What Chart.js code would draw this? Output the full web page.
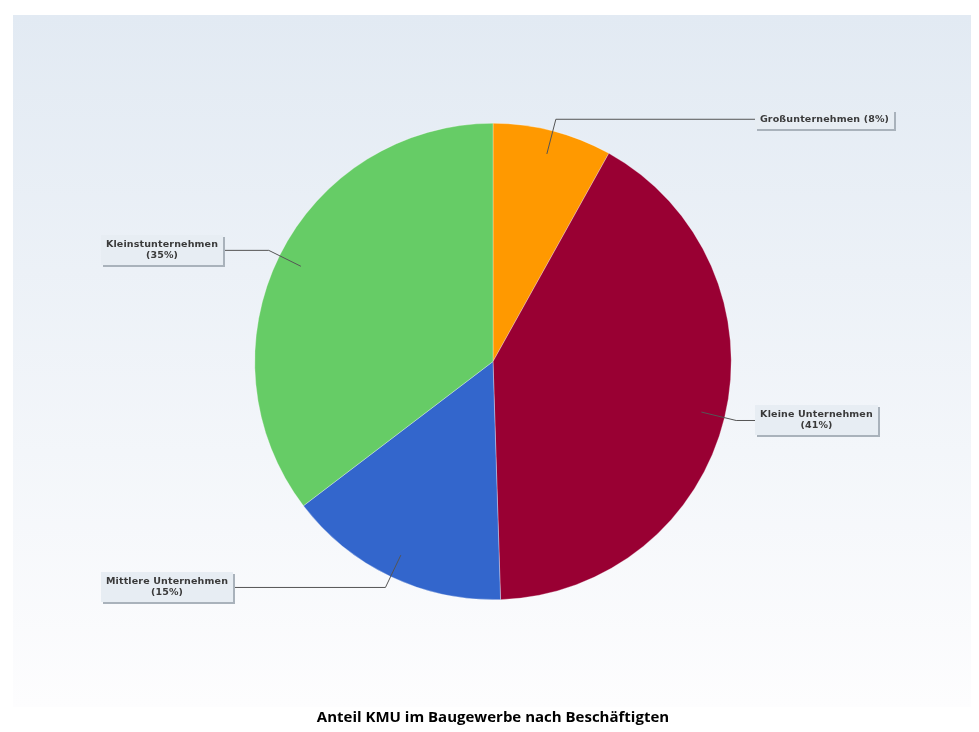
<!DOCTYPE html>
<html>
<head>
<meta charset="utf-8">
<script src="https://cdn.jsdelivr.net/npm/chart.js@4/dist/chart.umd.min.js"></script>
<style>
  html, body { margin: 0; background: #fff; }
</style>
</head>
<body>
<canvas id="pie" width="979" height="732"></canvas>
<script>
// Daten
const categories = ['Großunternehmen', 'Kleine Unternehmen', 'Mittlere Unternehmen', 'Kleinstunternehmen'];
const shares = [8, 41, 15, 35]; // Anteil in %
const colors = ['#ff9900', '#990033', '#3366cc', '#66cc66'];
const chartTitle = 'Anteil KMU im Baugewerbe nach Beschäftigten';

// Hintergrund mit Verlauf
const bgPlugin = {
  id: 'bg',
  beforeDraw(chart) {
    const ctx = chart.ctx;
    const g = ctx.createLinearGradient(0, 15, 0, 707);
    g.addColorStop(0, '#e2eaf3');
    g.addColorStop(1, '#fdfdfe');
    ctx.save();
    ctx.fillStyle = g;
    ctx.fillRect(13, 15, 958, 692);
    ctx.restore();
  }
};

// Beschriftungen mit Verbindungslinien
const labelPlugin = {
  id: 'pieLabels',
  afterDatasetsDraw(chart) {
    const ctx = chart.ctx;
    const meta = chart.getDatasetMeta(0);
    const lineH = 11;
    const maxTextW = 130;
    ctx.save();
    ctx.font = 'bold 9.5px "DejaVu Sans"';
    ctx.letterSpacing = '0.15px';
    ctx.textAlign = 'center';
    ctx.textBaseline = 'middle';

    meta.data.forEach((arc, i) => {
      const p = arc.getProps(['x', 'y', 'startAngle', 'endAngle', 'outerRadius'], true);
      const mid = (p.startAngle + p.endAngle) / 2;
      const cos = Math.cos(mid), sin = Math.sin(mid);
      const ax = p.x + cos * p.outerRadius * 0.9;
      const ay = p.y + sin * p.outerRadius * 0.9;
      const ex = p.x + cos * (p.outerRadius + 12);
      const ey = p.y + sin * (p.outerRadius + 12);
      const right = cos >= 0;

      // Text umbrechen, wenn zu lang
      const full = categories[i] + ' (' + shares[i] + '%)';
      const lines = ctx.measureText(full).width > maxTextW
        ? [categories[i], '(' + shares[i] + '%)']
        : [full];
      const textW = Math.max(...lines.map(l => ctx.measureText(l).width));
      const w = Math.round(textW + 10);
      const h = 8 + lineH * lines.length;
      const bx = right ? 755 : 101;
      const by = Math.round(ey - h / 2);

      // Linie
      ctx.strokeStyle = '#555';
      ctx.lineWidth = 1;
      ctx.beginPath();
      ctx.moveTo(ax, ay);
      ctx.lineTo(ex, ey);
      ctx.lineTo(right ? bx : bx + w, ey);
      ctx.stroke();

      // Box mit Schatten
      ctx.fillStyle = '#a9b2bb';
      ctx.fillRect(bx + 2, by + 2, w, h);
      ctx.fillStyle = '#e7edf3';
      ctx.fillRect(bx, by, w, h);

      ctx.fillStyle = '#3a3a3a';
      lines.forEach((l, k) => {
        ctx.fillText(l, bx + w / 2, by + 4 + lineH * k + lineH / 2 + 0.5);
      });
    });
    ctx.restore();
  }
};

new Chart(document.getElementById('pie'), {
  type: 'pie',
  data: {
    labels: categories,
    datasets: [{
      data: shares,
      backgroundColor: colors,
      borderColor: 'rgba(255,255,255,0.6)',
      borderWidth: 0.5
    }]
  },
  options: {
    responsive: false,
    animation: false,
    layout: { padding: { top: 123, left: 100, right: 93, bottom: 0 } },
    plugins: {
      legend: { display: false },
      tooltip: { enabled: false },
      title: {
        display: true,
        text: chartTitle,
        position: 'bottom',
        color: '#000',
        font: { family: '"Open Sans", "Liberation Sans", sans-serif', weight: 'bold', size: 15 },
        padding: { top: 109, bottom: 5 }
      }
    }
  },
  plugins: [bgPlugin, labelPlugin]
});
</script>
</body>
</html>
